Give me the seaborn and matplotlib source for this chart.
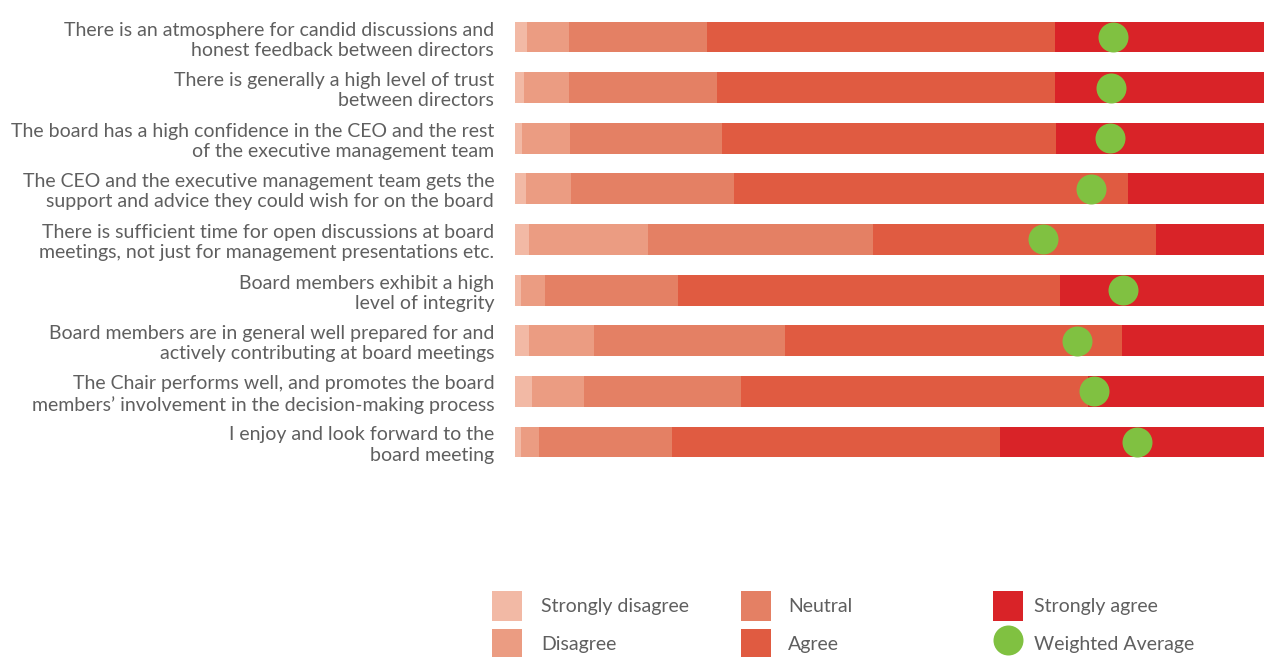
import numpy as np
import pandas as pd
import matplotlib
matplotlib.use("Agg")
import matplotlib.pyplot as plt
import seaborn as sns
from matplotlib.patches import Patch
from matplotlib.lines import Line2D

# Data (percent of respondents)
statements = [
    "There is an atmosphere for candid discussions and\nhonest feedback between directors",
    "There is generally a high level of trust\nbetween directors",
    "The board has a high confidence in the CEO and the rest\nof the executive management team",
    "The CEO and the executive management team gets the\nsupport and advice they could wish for on the board",
    "There is sufficient time for open discussions at board\nmeetings, not just for management presentations etc.",
    "Board members exhibit a high\nlevel of integrity",
    "Board members are in general well prepared for and\nactively contributing at board meetings",
    "The Chair performs well, and promotes the board\nmembers\u2019 involvement in the decision-making process",
    "I enjoy and look forward to the\nboard meeting",
]
strongly_disagree = [1.6, 1.2, 0.9, 1.5, 1.9, 0.8, 1.9, 2.3, 0.8]
disagree = [5.6, 6.0, 6.5, 6.0, 15.9, 3.2, 8.7, 6.9, 2.4]
neutral = [18.4, 19.8, 20.2, 21.8, 30.0, 17.8, 25.4, 21.0, 17.8]
agree = [46.5, 45.1, 44.6, 52.5, 37.8, 51.0, 45.1, 46.3, 43.8]
strongly_agree = [27.9, 27.9, 27.8, 18.3, 14.4, 27.2, 19.0, 23.5, 35.2]
weighted_avg = [79.8, 79.6, 79.4, 76.9, 70.5, 81.2, 75.1, 77.3, 83.0]

categories = ["Strongly disagree", "Disagree", "Neutral", "Agree", "Strongly agree"]
colors = ["#F2B9A5", "#EB9C82", "#E48064", "#E05B41", "#D92328"]
dot_color = "#80C141"
text_color = "#5f5f5f"

df = pd.DataFrame({
    "statement": statements,
    "Strongly disagree": strongly_disagree,
    "Disagree": disagree,
    "Neutral": neutral,
    "Agree": agree,
    "Strongly agree": strongly_agree,
    "avg": weighted_avg,
})
cum = df[categories].cumsum(axis=1)

sns.set_theme(style="white")
plt.rcParams["font.family"] = ["Lato", "DejaVu Sans"]

fig = plt.figure(figsize=(12.64, 6.57), dpi=100)
ax = fig.add_axes([515 / 1264, 1 - 467.3 / 657, 749 / 1264, 455.6 / 657])

# stacked bars: draw cumulative totals from largest to smallest
for cat, col in reversed(list(zip(categories, colors))):
    sns.barplot(x=cum[cat], y=df["statement"], orient="h", color=col,
                width=0.61, ax=ax, saturation=1, linewidth=0)

ax.scatter(df["avg"], np.arange(len(df)), s=21.6 ** 2, color=dot_color,
           zorder=5, linewidths=0)

ax.set_xlim(0, 100)
ax.set_ylim(len(df) - 0.5, -0.5)
ax.set_xlabel("")
ax.set_ylabel("")
ax.set_xticks([])
ax.tick_params(axis="y", length=0, pad=15, labelsize=14, labelcolor=text_color)
for lbl in ax.get_yticklabels():
    lbl.set_linespacing(1.22)
sns.despine(ax=ax, left=True, bottom=True)

# legend, three columns of two entries
handles = [Patch(facecolor=c, edgecolor="none") for c in colors]
handles.append(Line2D([], [], marker="o", linestyle="none", markersize=21.6,
                      markerfacecolor=dot_color, markeredgewidth=0))
labels = categories + ["Weighted Average"]
col_x = [492 / 1264, 741 / 1264, 993 / 1264]
text_pads = [0.98, 0.87, 0.57]
for i, x in enumerate(col_x):
    leg = fig.legend(handles[2 * i:2 * i + 2], labels[2 * i:2 * i + 2],
                     loc="upper left", bbox_to_anchor=(x, 1 - 591 / 657),
                     frameon=False, fontsize=14, handlelength=30 / 19.44,
                     handleheight=2.0, handletextpad=text_pads[i],
                     labelspacing=0.41, borderpad=0, borderaxespad=0)
    for t in leg.get_texts():
        t.set_color(text_color)

fig.savefig("out.png", dpi=100)
